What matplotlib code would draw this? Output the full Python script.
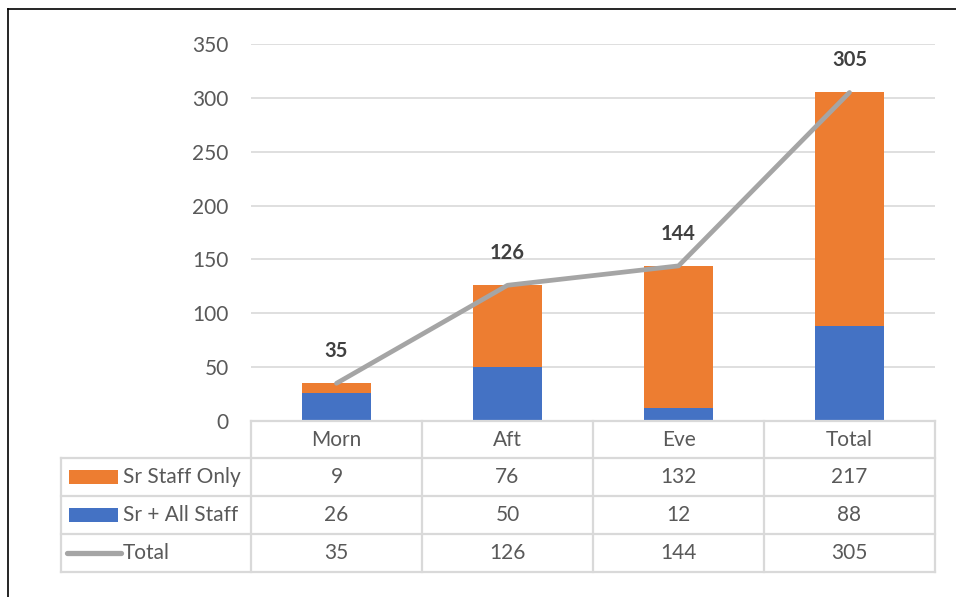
import matplotlib.pyplot as plt
from matplotlib.lines import Line2D
from matplotlib.patches import Rectangle

plt.rcParams["font.family"] = ["Lato", "DejaVu Sans"]

categories = ["Morn", "Aft", "Eve", "Total"]
sr_staff_only = [9, 76, 132, 217]
sr_all_staff = [26, 50, 12, 88]
totals = [35, 126, 144, 305]
series_names = ["Sr Staff Only", "Sr + All Staff", "Total"]

ORANGE = "#ED7D31"
BLUE = "#4472C4"
GRAY = "#A5A5A5"
GRID = "#D9D9D9"
TEXT = "#595959"
FS = 15

W, H = 956, 597
fig = plt.figure(figsize=(W / 100, H / 100), dpi=100)

# plot area in pixels: x 251..935, y 44..421
ax = fig.add_axes([251 / W, (H - 421) / H, 684 / W, 377 / H])
x = list(range(len(categories)))

ax.bar(x, sr_all_staff, width=0.4, color=BLUE, zorder=2)
ax.bar(x, sr_staff_only, width=0.4, bottom=sr_all_staff, color=ORANGE, zorder=2)
ax.plot(x, totals, color=GRAY, linewidth=3.4, solid_capstyle="round", zorder=3)

for xi, t in zip(x, totals):
    ax.annotate(str(t), (xi, t), xytext=(0, 16), textcoords="offset points",
                ha="center", va="bottom", fontsize=14.5, fontweight="bold",
                color="#404040")

ax.set_xlim(-0.5, len(categories) - 0.5)
ax.set_ylim(0, 350)
ax.set_yticks(range(0, 351, 50))
ax.tick_params(axis="y", length=0, pad=16, labelsize=FS, labelcolor=TEXT)
ax.set_xticks([])
ax.grid(axis="y", color=GRID, linewidth=1.2, zorder=0)
for s in ax.spines.values():
    s.set_visible(False)

# data table below the plot (x in data units, y in axes fraction)
tr = ax.get_xaxis_transform()
px = 377.0
rows_y = [0, -37 / px, -75 / px, -113 / px, -151 / px]
left = -0.5 - 190 / 171.0
right = len(categories) - 0.5
line_kw = dict(color=GRID, linewidth=1.6, transform=tr, clip_on=False)

# horizontal lines
ax.add_line(Line2D([-0.5, right], [rows_y[0], rows_y[0]], **line_kw))
for yy in rows_y[1:]:
    ax.add_line(Line2D([left, right], [yy, yy], **line_kw))
# vertical lines
for i in range(len(categories) + 1):
    xv = i - 0.5
    ax.add_line(Line2D([xv, xv], [rows_y[0], rows_y[-1]], **line_kw))
ax.add_line(Line2D([left, left], [rows_y[1], rows_y[-1]], **line_kw))

# header row
for xi, c in zip(x, categories):
    ax.text(xi, (rows_y[0] + rows_y[1]) / 2, c, transform=tr, ha="center",
            va="center", fontsize=FS, color=TEXT)

row_values = [sr_staff_only, sr_all_staff, totals]
for r, (name, vals) in enumerate(zip(series_names, row_values)):
    yc = (rows_y[r + 1] + rows_y[r + 2]) / 2
    for xi, v in zip(x, vals):
        ax.text(xi, yc, str(v), transform=tr, ha="center", va="center",
                fontsize=FS, color=TEXT)
    ax.text(left + 62 / 171.0, yc, name, transform=tr, ha="left",
            va="center", fontsize=FS, color=TEXT)

# legend keys
key_x0 = left + 8 / 171.0
key_w = 49 / 171.0
key_h = 14 / px
for r, col in enumerate([ORANGE, BLUE]):
    yc = (rows_y[r + 1] + rows_y[r + 2]) / 2
    ax.add_patch(Rectangle((key_x0, yc - key_h / 2), key_w, key_h,
                           facecolor=col, edgecolor="none", transform=tr,
                           clip_on=False))
yc = (rows_y[3] + rows_y[4]) / 2
ax.add_line(Line2D([left + 6 / 171.0, left + 60 / 171.0], [yc, yc], color=GRAY,
                   linewidth=3.8, solid_capstyle="round", transform=tr,
                   clip_on=False))

# chart border (left and top edges visible)
fig.add_artist(Line2D([8 / W, 8 / W], [0, 1 - 9 / H], color="black",
                      linewidth=1.2, transform=fig.transFigure))
fig.add_artist(Line2D([8 / W, 1], [1 - 9 / H, 1 - 9 / H], color="black",
                      linewidth=1.2, transform=fig.transFigure))

fig.savefig("out.png", dpi=100, facecolor="white")
